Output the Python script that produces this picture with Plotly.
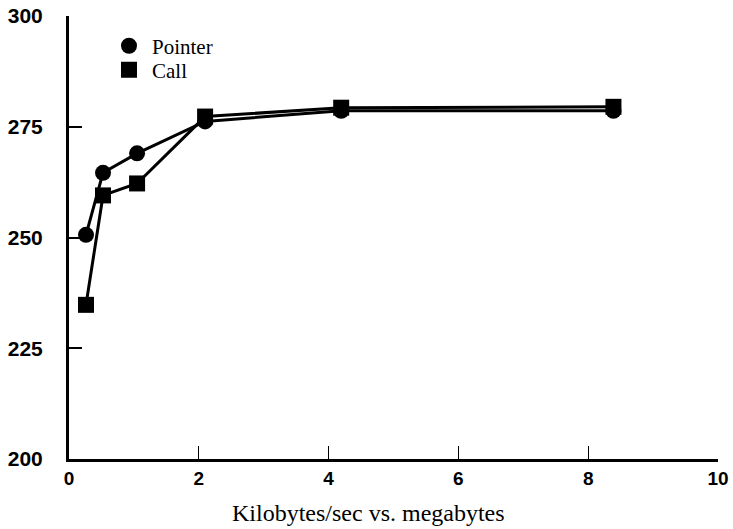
import plotly.graph_objects as go

x_mb = [0.262, 0.524, 1.049, 2.097, 4.194, 8.389]
pointer = [250.6, 264.6, 269.0, 276.2, 278.6, 278.6]
call = [234.8, 259.5, 262.2, 277.3, 279.3, 279.5]
x_ticks = [0, 2, 4, 6, 8, 10]
y_ticks = [200, 225, 250, 275, 300]
x_title = "Kilobytes/sec vs. megabytes"

fig = go.Figure()
fig.add_trace(go.Scatter(x=x_mb, y=pointer, mode="lines+markers", showlegend=False,
                         line=dict(color="black", width=3),
                         marker=dict(symbol="circle", size=16, color="black")))
fig.add_trace(go.Scatter(x=x_mb, y=call, mode="lines+markers", showlegend=False,
                         line=dict(color="black", width=3),
                         marker=dict(symbol="square", size=16, color="black")))
fig.add_trace(go.Scatter(x=[None], y=[None], mode="markers", name="Pointer", legend="legend",
                         marker=dict(symbol="circle", size=16, color="black")))
fig.add_trace(go.Scatter(x=[None], y=[None], mode="markers", name="Call", legend="legend2",
                         marker=dict(symbol="square", size=16, color="black")))

fig.update_layout(
    width=733, height=529,
    margin=dict(l=69, r=15, t=16, b=70),
    paper_bgcolor="white", plot_bgcolor="white",
    font=dict(family="Liberation Serif", color="black"),
    legend=dict(x=0.057, y=0.932, xanchor="left", yanchor="middle",
                font=dict(family="Liberation Serif", size=21, color="black"),
                bgcolor="rgba(0,0,0,0)", itemwidth=36),
    legend2=dict(x=0.057, y=0.878, xanchor="left", yanchor="middle",
                 font=dict(family="Liberation Serif", size=21, color="black"),
                 bgcolor="rgba(0,0,0,0)", itemwidth=36),
    xaxis=dict(range=[0, 10], tickvals=x_ticks, ticktext=[str(v) for v in x_ticks],
               automargin=False,
               showgrid=False, zeroline=False, showline=True, linecolor="black", linewidth=3,
               ticks="inside", ticklen=13, tickwidth=1, tickcolor="black",
               tickfont=dict(family="Liberation Sans", size=19, color="black", weight="bold")),
    yaxis=dict(range=[200, 300], tickvals=y_ticks, ticktext=[str(v) for v in y_ticks],
               automargin=False,
               showgrid=False, zeroline=False, showline=True, linecolor="black", linewidth=3,
               ticks="inside", ticklen=13, tickwidth=1.5, tickcolor="black",
               ticklabelstandoff=19,
               tickfont=dict(family="Liberation Sans", size=21, color="black", weight="bold")),
    annotations=[dict(text=x_title, xref="paper", yref="paper", x=0.462, y=0,
                      xanchor="center", yanchor="middle", yshift=-54, showarrow=False,
                      font=dict(family="Liberation Serif", size=24, color="black"))],
)
fig.write_html("out.html", config={"displayModeBar": False},
               post_script="document.body.style.margin='0';document.body.style.overflow='hidden';")
